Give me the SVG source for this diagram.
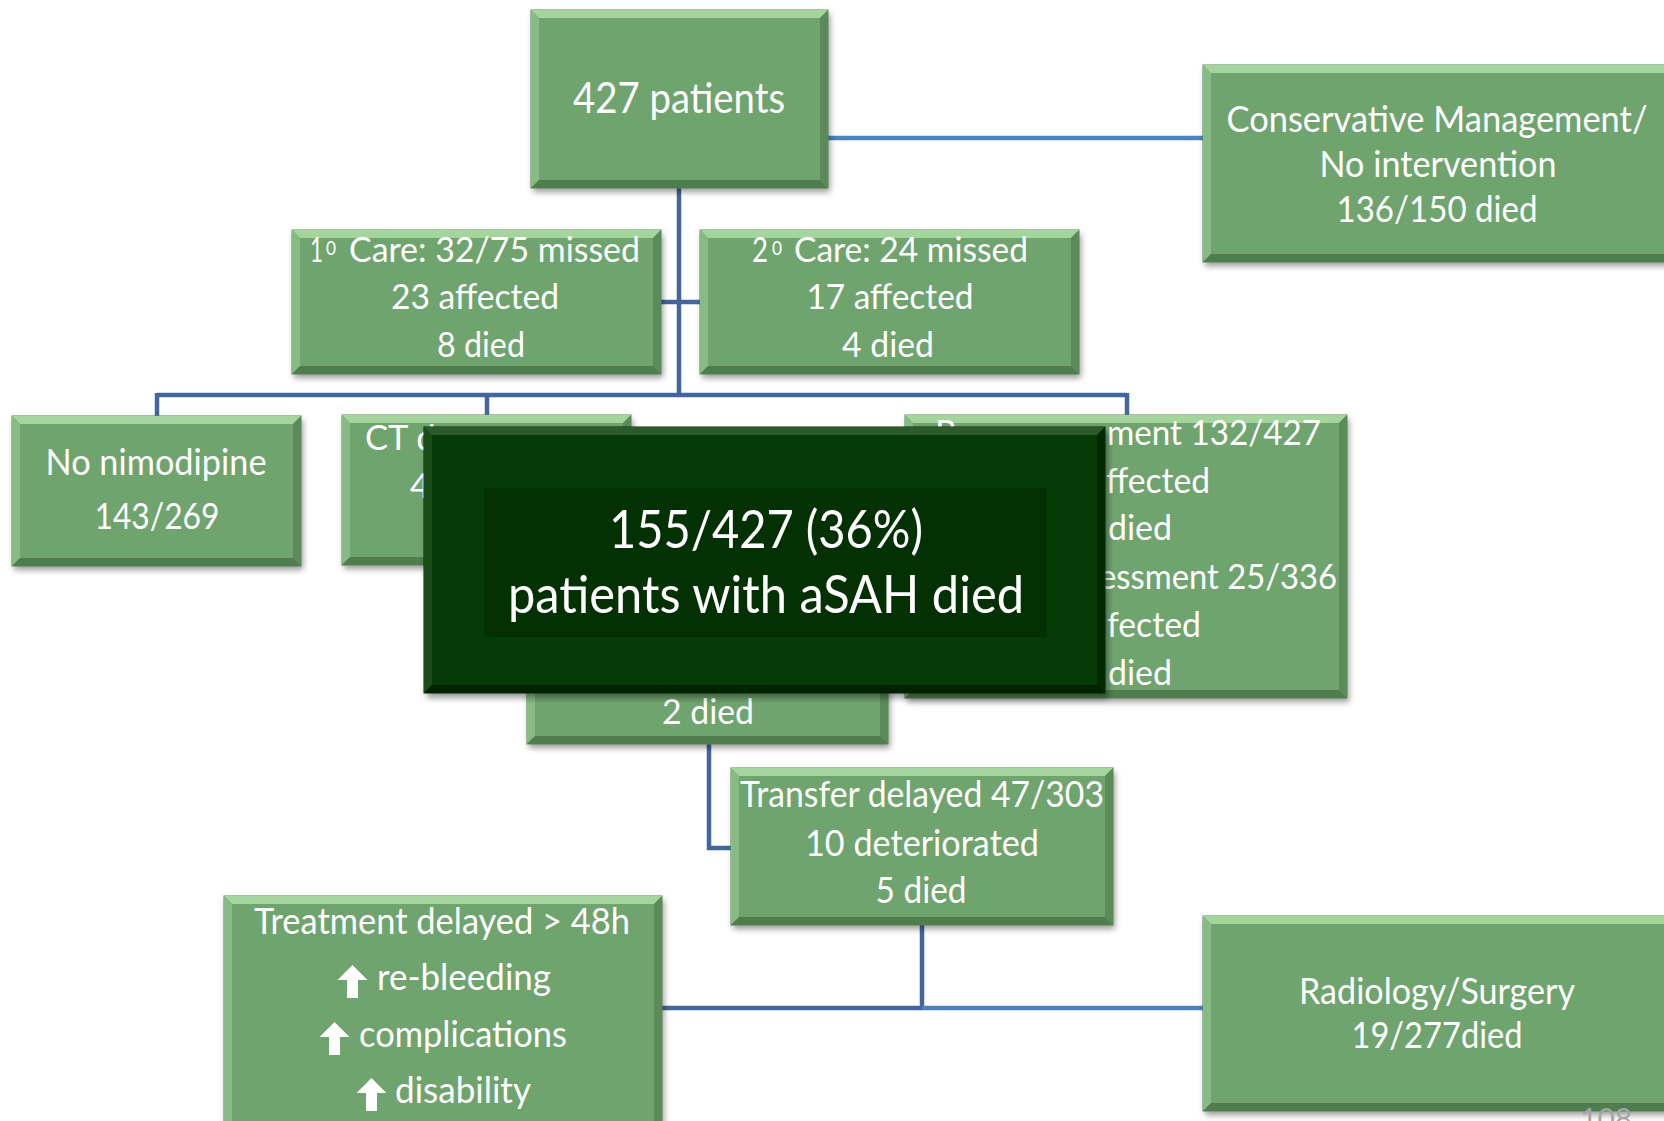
<svg xmlns="http://www.w3.org/2000/svg" width="1664" height="1121" viewBox="0 0 1664 1121">
  <style>
    .box { fill: #6fa46e; stroke: #5a8a58; stroke-width: 1; }
    .bt { fill: #a3d59c; }
    .bl { fill: #87bb83; }
    .br { fill: #5a8b58; }
    .bb { fill: #4f7d4e; }
    .dark { fill: #063a06; stroke: #022402; stroke-width: 1; }
    .dinner { fill: #033103; }
    .dt { fill: #2b5b2b; }
    .dl { fill: #1a4c1a; }
    .dr { fill: #022a02; }
    .db { fill: #012201; }
    .shadow { fill: #000; opacity: 0.4; filter: url(#soft); }
    .t { font-family: Lato, "Noto Sans", "DejaVu Sans", sans-serif; fill: #ffffff; font-size: 36px; }
    .m { text-anchor: middle; }
    .s34 { font-size: 34px; }
    .s35 { font-size: 34.5px; }
    .s42 { font-size: 42px; }
    .s52 { font-size: 52px; }
    .sup { font-size: 19px; }
    .c { fill: none; stroke: #43679c; stroke-width: 4.5; }
    .c2 { stroke: #4f81bd; }
    .pg { font-family: Lato, "Noto Sans", sans-serif; fill: #a6a6a6; font-size: 30px; }
  </style>
  <defs>
    <filter id="soft" x="-10%" y="-10%" width="120%" height="130%">
      <feGaussianBlur stdDeviation="3"/>
    </filter>
    <path id="up" d="M0,0 L15,15 L5.5,15 L5.5,33 L-5.5,33 L-5.5,15 L-15,15 Z" fill="#ffffff"/>
  </defs>

  <rect width="1664" height="1121" fill="#ffffff"/>

  <!-- connectors -->
  <g id="connectors">
    <path class="c c2" d="M828,138 H1203"/>
    <path class="c" d="M679,188 V395"/>
    <path class="c" d="M661,302 H700"/>
    <path class="c" d="M157,395 H1127"/>
    <path class="c" d="M157,393 V416"/>
    <path class="c" d="M487,393 V415"/>
    <path class="c" d="M1127,393 V415"/>
    <path class="c" d="M709,744 V848 H731"/>
    <path class="c" d="M922,925 V1008"/>
    <path class="c" d="M662,1008 H922"/>
    <path class="c c2" d="M922,1008 H1203"/>
  </g>

  <!-- 427 patients -->
  <g id="n-total">
    <rect class="shadow" x="533" y="14" width="297" height="178"/>
    <rect class="box" x="531" y="10" width="297" height="178"/>
    <polygon class="bt" points="531,10 828,10 820,18 539,18"/>
    <polygon class="bl" points="531,10 539,18 539,180 531,188"/>
    <polygon class="br" points="828,10 828,188 820,180 820,18"/>
    <polygon class="bb" points="531,188 828,188 820,180 539,180"/>
    <text class="t m s42" x="679" y="113" textLength="212" lengthAdjust="spacingAndGlyphs">427 patients</text>
  </g>

  <!-- Conservative management -->
  <g id="n-conservative">
    <rect class="shadow" x="1205" y="69" width="487" height="197"/>
    <rect class="box" x="1203" y="65" width="487" height="197"/>
    <polygon class="bt" points="1203,65 1690,65 1682,73 1211,73"/>
    <polygon class="bl" points="1203,65 1211,73 1211,254 1203,262"/>
    <polygon class="bb" points="1203,262 1690,262 1682,254 1211,254"/>
    <text class="t m" x="1437" y="132" textLength="421" lengthAdjust="spacingAndGlyphs">Conservative Management/</text>
    <text class="t m" x="1438" y="177" textLength="237" lengthAdjust="spacingAndGlyphs">No intervention</text>
    <text class="t m" x="1437" y="222" textLength="201" lengthAdjust="spacingAndGlyphs">136/150 died</text>
  </g>

  <!-- Primary care -->
  <g id="n-primary">
    <rect class="shadow" x="294" y="234" width="369" height="144"/>
    <rect class="box" x="292" y="230" width="369" height="144"/>
    <polygon class="bt" points="292,230 661,230 653,238 300,238"/>
    <polygon class="bl" points="292,230 300,238 300,366 292,374"/>
    <polygon class="br" points="661,230 661,374 653,366 653,238"/>
    <polygon class="bb" points="292,374 661,374 653,366 300,366"/>
    <text class="t s34" x="310" y="262" textLength="13" lengthAdjust="spacingAndGlyphs">1</text>
    <text class="t sup" x="326" y="255" textLength="10" lengthAdjust="spacingAndGlyphs">0</text>
    <text class="t s34" x="349" y="262" textLength="291" lengthAdjust="spacingAndGlyphs">Care: 32/75 missed</text>
    <text class="t m s34" x="475" y="309" textLength="168" lengthAdjust="spacingAndGlyphs">23 affected</text>
    <text class="t m s34" x="481" y="357" textLength="88" lengthAdjust="spacingAndGlyphs">8 died</text>
  </g>

  <!-- Secondary care -->
  <g id="n-secondary">
    <rect class="shadow" x="702" y="234" width="379" height="144"/>
    <rect class="box" x="700" y="230" width="379" height="144"/>
    <polygon class="bt" points="700,230 1079,230 1071,238 708,238"/>
    <polygon class="bl" points="700,230 708,238 708,366 700,374"/>
    <polygon class="br" points="1079,230 1079,374 1071,366 1071,238"/>
    <polygon class="bb" points="700,374 1079,374 1071,366 708,366"/>
    <text class="t s34" x="752" y="262" textLength="16" lengthAdjust="spacingAndGlyphs">2</text>
    <text class="t sup" x="772" y="255" textLength="10" lengthAdjust="spacingAndGlyphs">0</text>
    <text class="t s34" x="794" y="262" textLength="234" lengthAdjust="spacingAndGlyphs">Care: 24 missed</text>
    <text class="t m s34" x="890" y="309" textLength="167" lengthAdjust="spacingAndGlyphs">17 affected</text>
    <text class="t m s34" x="888" y="357" textLength="92" lengthAdjust="spacingAndGlyphs">4 died</text>
  </g>

  <!-- No nimodipine -->
  <g id="n-nimodipine">
    <rect class="shadow" x="14" y="420" width="289" height="150"/>
    <rect class="box" x="12" y="416" width="289" height="150"/>
    <polygon class="bt" points="12,416 301,416 293,424 20,424"/>
    <polygon class="bl" points="12,416 20,424 20,558 12,566"/>
    <polygon class="br" points="301,416 301,566 293,558 293,424"/>
    <polygon class="bb" points="12,566 301,566 293,558 20,558"/>
    <text class="t m" x="156" y="475" textLength="221" lengthAdjust="spacingAndGlyphs">No nimodipine</text>
    <text class="t m" x="157" y="529" textLength="125" lengthAdjust="spacingAndGlyphs">143/269</text>
  </g>

  <!-- CT box -->
  <g id="n-ct">
    <rect class="shadow" x="344" y="419" width="289" height="150"/>
    <rect class="box" x="342" y="415" width="289" height="150"/>
    <polygon class="bt" points="342,415 631,415 623,423 350,423"/>
    <polygon class="bl" points="342,415 350,423 350,557 342,565"/>
    <polygon class="br" points="631,415 631,565 623,557 623,423"/>
    <polygon class="bb" points="342,565 631,565 623,557 350,557"/>
    <text class="t s35" x="365" y="450">CT d</text>
    <text class="t s35" x="410" y="498">4</text>
  </g>

  <!-- Re-assessment box -->
  <g id="n-reassessment">
    <rect class="shadow" x="907" y="419" width="442" height="283"/>
    <rect class="box" x="905" y="415" width="442" height="283"/>
    <polygon class="bt" points="905,415 1347,415 1339,423 913,423"/>
    <polygon class="bl" points="905,415 913,423 913,690 905,698"/>
    <polygon class="br" points="1347,415 1347,698 1339,690 1339,423"/>
    <polygon class="bb" points="905,698 1347,698 1339,690 913,690"/>
    <text class="t s35" x="935" y="445">R</text>
    <text class="t s35" x="1107" y="445" textLength="214" lengthAdjust="spacingAndGlyphs">ment 132/427</text>
    <text class="t s35" x="1106" y="493" textLength="104" lengthAdjust="spacingAndGlyphs">ffected</text>
    <text class="t s35" x="1108" y="540" textLength="64" lengthAdjust="spacingAndGlyphs">died</text>
    <text class="t s35" x="1099" y="589" textLength="238" lengthAdjust="spacingAndGlyphs">essment 25/336</text>
    <text class="t s35" x="1107" y="637" textLength="94" lengthAdjust="spacingAndGlyphs">fected</text>
    <text class="t s35" x="1108" y="685" textLength="64" lengthAdjust="spacingAndGlyphs">died</text>
  </g>

  <!-- Box ending "2 died" -->
  <g id="n-died2">
    <rect class="shadow" x="529" y="604" width="361" height="144"/>
    <rect class="box" x="527" y="600" width="361" height="144"/>
    <polygon class="bt" points="527,600 888,600 880,608 535,608"/>
    <polygon class="bl" points="527,600 535,608 535,736 527,744"/>
    <polygon class="br" points="888,600 888,744 880,736 880,608"/>
    <polygon class="bb" points="527,744 888,744 880,736 535,736"/>
    <text class="t m s34" x="708" y="724" textLength="92" lengthAdjust="spacingAndGlyphs">2 died</text>
  </g>

  <!-- Overall mortality -->
  <g id="n-summary">
    <rect class="shadow" x="427" y="432" width="681" height="266"/>
    <rect class="dark" x="424" y="427" width="681" height="266"/>
    <polygon class="dt" points="424,427 1105,427 1097,435 432,435"/>
    <polygon class="dl" points="424,427 432,435 432,685 424,693"/>
    <polygon class="dr" points="1105,427 1105,693 1097,685 1097,435"/>
    <polygon class="db" points="424,693 1105,693 1097,685 432,685"/>
    <rect class="dinner" x="484" y="488" width="563" height="149"/>
    <text class="t m s52" x="766" y="548" textLength="314" lengthAdjust="spacingAndGlyphs">155/427 (36%)</text>
    <text class="t m s52" x="766" y="613" textLength="516" lengthAdjust="spacingAndGlyphs">patients with aSAH died</text>
  </g>

  <!-- Transfer delayed -->
  <g id="n-transfer">
    <rect class="shadow" x="733" y="772" width="382" height="157"/>
    <rect class="box" x="731" y="768" width="382" height="157"/>
    <polygon class="bt" points="731,768 1113,768 1105,776 739,776"/>
    <polygon class="bl" points="731,768 739,776 739,917 731,925"/>
    <polygon class="br" points="1113,768 1113,925 1105,917 1105,776"/>
    <polygon class="bb" points="731,925 1113,925 1105,917 739,917"/>
    <text class="t m" x="922" y="807" textLength="364" lengthAdjust="spacingAndGlyphs">Transfer delayed 47/303</text>
    <text class="t m" x="922" y="856" textLength="234" lengthAdjust="spacingAndGlyphs">10 deteriorated</text>
    <text class="t m" x="921" y="903" textLength="91" lengthAdjust="spacingAndGlyphs">5 died</text>
  </g>

  <!-- Treatment delayed -->
  <g id="n-treatment">
    <rect class="shadow" x="226" y="900" width="438" height="240"/>
    <rect class="box" x="224" y="896" width="438" height="240"/>
    <polygon class="bt" points="224,896 662,896 654,904 232,904"/>
    <polygon class="bl" points="224,896 232,904 232,1136 224,1136"/>
    <polygon class="br" points="662,896 662,1136 654,1136 654,904"/>
    <text class="t m" x="442" y="934" textLength="376" lengthAdjust="spacingAndGlyphs">Treatment delayed &gt; 48h</text>
    <use href="#up" x="352.5" y="965"/>
    <text class="t" x="377" y="990" textLength="174" lengthAdjust="spacingAndGlyphs">re-bleeding</text>
    <use href="#up" x="334.5" y="1022"/>
    <text class="t" x="359" y="1047" textLength="208" lengthAdjust="spacingAndGlyphs">complications</text>
    <use href="#up" x="371.5" y="1078"/>
    <text class="t" x="395" y="1103" textLength="136" lengthAdjust="spacingAndGlyphs">disability</text>
  </g>

  <!-- Radiology / Surgery -->
  <g id="n-radiology">
    <rect class="shadow" x="1205" y="920" width="487" height="195"/>
    <rect class="box" x="1203" y="916" width="487" height="195"/>
    <polygon class="bt" points="1203,916 1690,916 1682,924 1211,924"/>
    <polygon class="bl" points="1203,916 1211,924 1211,1103 1203,1111"/>
    <polygon class="bb" points="1203,1111 1690,1111 1682,1103 1211,1103"/>
    <text class="t m" x="1437" y="1004" textLength="276" lengthAdjust="spacingAndGlyphs">Radiology/Surgery</text>
    <text class="t m" x="1437" y="1048" textLength="171" lengthAdjust="spacingAndGlyphs">19/277died</text>
  </g>

  <!-- slide number, partly below the page edge -->
  <text class="pg" x="1580" y="1130">108</text>
</svg>
